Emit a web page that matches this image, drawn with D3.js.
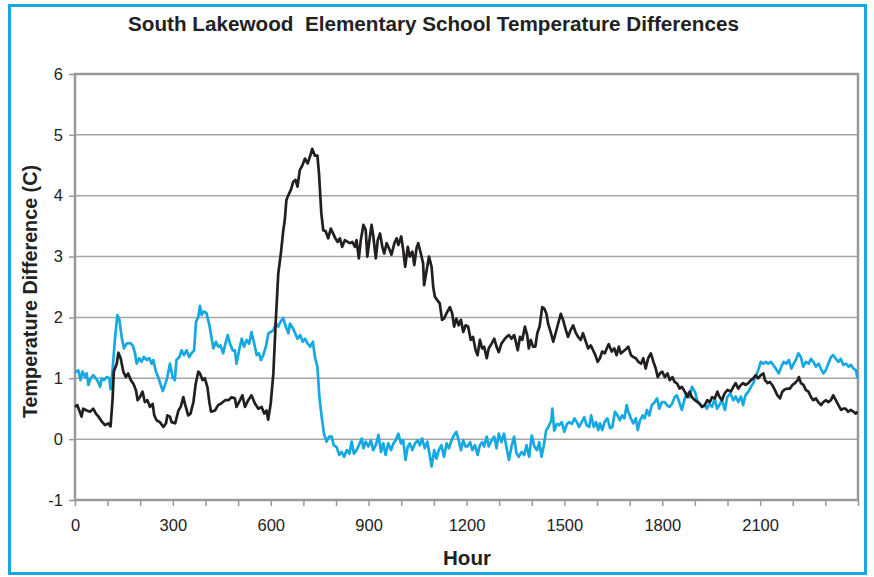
<!DOCTYPE html>
<html><head><meta charset="utf-8">
<script src="https://cdn.jsdelivr.net/npm/d3@7"></script>
<style>html,body{margin:0;padding:0;background:#fff;}svg{display:block;font-family:Arial,"Liberation Sans",sans-serif;}</style>
</head><body><div id="chart"></div>
<script>
const titleText = "South Lakewood  Elementary School Temperature Differences";
const yTitle = "Temperature Difference (C)";
const xTitle = "Hour";
const yTicks = [-1,0,1,2,3,4,5,6];
const xLabelTicks = [0,300,600,900,1200,1500,1800,2100];
const xMinorTicks = d3.range(0, 2401, 100);

// [hour, temperature difference]
const blackSeries = [
[0,0.53],[7,0.56],[20,0.37],[25,0.50],[36,0.47],[46,0.45],[56,0.50],[64,0.42],[72,0.37],[82,0.29],[92,0.23],[102,0.26],[109,0.21],[115,0.64],[119,1.11],[128,1.24],[133,1.42],[140,1.33],[148,1.11],[156,1.02],[163,1.08],[171,0.97],[179,0.91],[187,0.80],[192,0.64],[199,0.69],[207,0.78],[214,0.61],[222,0.64],[230,0.53],[238,0.58],[243,0.39],[250,0.31],[260,0.28],[271,0.20],[279,0.26],[283,0.39],[291,0.37],[296,0.28],[307,0.26],[317,0.47],[324,0.53],[332,0.69],[337,0.58],[347,0.39],[354,0.42],[363,0.61],[370,0.91],[378,1.11],[383,1.08],[391,0.97],[398,1.00],[406,0.85],[412,0.60],[417,0.45],[429,0.47],[439,0.56],[449,0.59],[460,0.64],[470,0.64],[480,0.69],[490,0.67],[495,0.53],[506,0.64],[513,0.72],[521,0.53],[531,0.64],[541,0.72],[551,0.59],[562,0.50],[572,0.53],[580,0.42],[587,0.47],[592,0.32],[600,0.59],[608,1.08],[615,1.90],[623,2.72],[631,3.05],[638,3.41],[643,3.60],[648,3.93],[654,4.01],[662,4.10],[669,4.23],[676,4.26],[682,4.15],[689,4.42],[697,4.50],[705,4.61],[713,4.53],[720,4.64],[727,4.77],[735,4.66],[743,4.66],[748,4.36],[755,3.71],[761,3.43],[768,3.42],[776,3.30],[784,3.46],[791,3.38],[798,3.30],[805,3.24],[812,3.30],[819,3.16],[827,3.27],[836,3.24],[843,3.22],[850,3.24],[858,3.16],[863,3.27],[870,2.97],[876,3.27],[884,3.52],[891,3.44],[896,3.00],[904,3.33],[909,3.52],[914,3.35],[922,2.97],[928,3.27],[935,3.38],[942,3.16],[948,3.05],[955,3.22],[962,3.14],[970,3.03],[979,3.22],[986,3.30],[991,3.19],[1000,3.33],[1006,3.11],[1012,2.83],[1020,3.16],[1026,3.00],[1034,3.08],[1040,2.86],[1047,3.14],[1052,3.22],[1060,3.05],[1067,2.89],[1070,2.53],[1078,2.78],[1085,3.00],[1093,2.83],[1098,2.50],[1103,2.34],[1111,2.28],[1118,2.23],[1125,1.96],[1131,1.98],[1139,2.07],[1149,2.17],[1156,2.07],[1162,1.85],[1169,1.98],[1176,1.87],[1183,1.96],[1190,1.76],[1197,1.87],[1205,1.85],[1213,1.63],[1220,1.68],[1228,1.46],[1234,1.38],[1241,1.63],[1248,1.49],[1254,1.52],[1262,1.33],[1268,1.49],[1277,1.57],[1285,1.65],[1292,1.52],[1299,1.43],[1307,1.57],[1315,1.63],[1323,1.68],[1330,1.71],[1338,1.65],[1346,1.71],[1350,1.63],[1357,1.46],[1364,1.68],[1371,1.63],[1379,1.85],[1386,1.71],[1391,1.49],[1397,1.63],[1404,1.52],[1411,1.52],[1417,1.74],[1424,1.85],[1432,2.17],[1438,2.15],[1445,2.06],[1450,1.90],[1458,1.76],[1466,1.60],[1473,1.74],[1481,1.90],[1489,2.06],[1496,1.96],[1503,1.82],[1511,1.68],[1519,1.79],[1527,1.87],[1534,1.76],[1542,1.68],[1550,1.63],[1557,1.74],[1564,1.63],[1573,1.49],[1581,1.54],[1588,1.46],[1595,1.38],[1602,1.27],[1609,1.33],[1616,1.44],[1624,1.41],[1632,1.52],[1636,1.56],[1645,1.44],[1653,1.49],[1660,1.38],[1667,1.52],[1673,1.41],[1680,1.44],[1691,1.49],[1696,1.52],[1704,1.38],[1711,1.35],[1719,1.33],[1727,1.27],[1735,1.24],[1742,1.33],[1749,1.16],[1757,1.33],[1765,1.41],[1773,1.27],[1780,1.16],[1786,1.02],[1793,1.08],[1800,1.11],[1808,1.02],[1816,1.08],[1823,0.97],[1831,1.02],[1838,0.94],[1846,0.91],[1853,0.83],[1860,0.86],[1869,0.78],[1877,0.69],[1884,0.78],[1891,0.69],[1900,0.64],[1908,0.61],[1915,0.58],[1922,0.53],[1930,0.56],[1938,0.64],[1946,0.61],[1953,0.69],[1961,0.67],[1969,0.78],[1976,0.69],[1983,0.64],[1991,0.75],[2000,0.81],[2010,0.78],[2018,0.86],[2025,0.92],[2033,0.83],[2041,0.89],[2048,0.92],[2055,0.89],[2064,0.92],[2072,0.97],[2079,1.00],[2086,1.05],[2094,1.00],[2102,1.05],[2110,1.08],[2115,0.97],[2123,0.92],[2130,0.94],[2137,0.89],[2145,0.81],[2153,0.72],[2161,0.67],[2168,0.78],[2176,0.82],[2184,0.83],[2191,0.83],[2199,0.89],[2207,0.92],[2215,0.97],[2219,1.02],[2225,0.92],[2233,0.89],[2240,0.81],[2248,0.78],[2256,0.69],[2263,0.64],[2271,0.67],[2278,0.61],[2287,0.56],[2294,0.61],[2301,0.64],[2309,0.61],[2317,0.64],[2324,0.72],[2332,0.64],[2340,0.56],[2348,0.48],[2355,0.50],[2362,0.50],[2370,0.45],[2378,0.48],[2386,0.45],[2393,0.42],[2398,0.45]
];

const blueSeries = [
[0,1.11],[3,1.11],[10,1.13],[17,0.97],[23,1.11],[31,1.02],[36,1.08],[41,0.89],[48,1.00],[56,1.05],[64,1.00],[71,0.94],[77,0.86],[82,1.00],[89,0.97],[97,1.02],[105,1.00],[109,0.82],[115,1.13],[123,1.68],[130,2.04],[136,1.96],[143,1.68],[150,1.49],[158,1.57],[169,1.58],[177,1.54],[184,1.41],[189,1.24],[197,1.33],[204,1.27],[211,1.35],[220,1.30],[228,1.33],[235,1.24],[240,1.30],[248,1.11],[255,1.02],[263,0.89],[269,0.79],[276,0.89],[283,1.02],[291,1.24],[299,1.02],[306,0.97],[311,1.30],[320,1.35],[327,1.46],[334,1.38],[342,1.46],[350,1.35],[357,1.41],[365,1.46],[371,1.93],[378,2.01],[383,2.19],[388,2.04],[395,2.10],[403,2.07],[412,1.87],[419,1.65],[424,1.49],[432,1.60],[439,1.52],[446,1.54],[454,1.41],[461,1.57],[468,1.71],[475,1.57],[483,1.46],[490,1.46],[495,1.24],[504,1.49],[511,1.65],[518,1.52],[526,1.63],[534,1.57],[541,1.76],[548,1.60],[557,1.38],[564,1.41],[570,1.30],[577,1.38],[585,1.52],[593,1.74],[600,1.76],[608,1.79],[616,1.90],[623,1.85],[630,1.93],[638,1.99],[646,1.85],[654,1.74],[659,1.90],[668,1.82],[675,1.74],[682,1.65],[690,1.71],[698,1.60],[705,1.65],[713,1.57],[721,1.52],[729,1.60],[736,1.33],[743,1.19],[749,0.70],[756,0.37],[763,0.09],[771,-0.04],[779,0.04],[787,0.04],[793,-0.10],[802,-0.13],[810,-0.26],[817,-0.21],[825,-0.29],[833,-0.18],[841,-0.24],[848,-0.04],[855,-0.24],[863,-0.18],[870,-0.10],[879,0.01],[884,-0.15],[891,-0.04],[899,-0.12],[907,-0.02],[914,-0.18],[922,-0.10],[930,0.07],[938,-0.21],[945,-0.07],[952,-0.26],[960,-0.07],[969,-0.18],[976,-0.07],[983,-0.02],[991,0.09],[999,-0.07],[1006,-0.02],[1013,-0.34],[1020,-0.12],[1026,-0.07],[1034,-0.18],[1042,-0.07],[1050,-0.02],[1057,-0.10],[1064,0.01],[1072,-0.15],[1080,-0.04],[1088,-0.29],[1093,-0.45],[1101,-0.18],[1108,-0.32],[1115,-0.18],[1123,-0.10],[1131,-0.29],[1139,-0.07],[1146,-0.15],[1154,-0.02],[1162,0.07],[1169,0.12],[1176,-0.02],[1183,-0.18],[1190,-0.02],[1197,-0.12],[1203,-0.12],[1211,-0.05],[1218,-0.18],[1226,-0.10],[1234,-0.26],[1241,-0.10],[1248,-0.05],[1254,-0.12],[1262,0.04],[1268,-0.12],[1277,-0.02],[1285,0.04],[1292,-0.15],[1299,0.09],[1307,-0.05],[1315,0.09],[1323,-0.15],[1330,-0.34],[1338,-0.12],[1346,0.04],[1353,-0.23],[1360,-0.29],[1369,-0.21],[1377,-0.26],[1384,-0.10],[1392,-0.29],[1400,0.06],[1408,-0.12],[1416,-0.18],[1423,-0.05],[1430,-0.29],[1437,-0.10],[1444,0.14],[1451,0.20],[1460,0.31],[1463,0.50],[1469,0.14],[1477,0.25],[1484,0.23],[1492,0.28],[1500,0.12],[1508,0.25],[1515,0.28],[1523,0.25],[1531,0.34],[1538,0.28],[1545,0.20],[1553,0.28],[1561,0.36],[1568,0.23],[1576,0.20],[1582,0.39],[1590,0.20],[1597,0.28],[1604,0.15],[1609,0.26],[1616,0.15],[1624,0.29],[1632,0.34],[1640,0.18],[1647,0.20],[1655,0.45],[1663,0.39],[1670,0.31],[1677,0.39],[1684,0.34],[1691,0.56],[1696,0.45],[1704,0.34],[1711,0.26],[1719,0.34],[1725,0.15],[1732,0.31],[1740,0.39],[1746,0.34],[1753,0.48],[1760,0.39],[1768,0.56],[1777,0.61],[1784,0.67],[1791,0.50],[1799,0.61],[1807,0.61],[1814,0.56],[1822,0.53],[1830,0.58],[1838,0.69],[1845,0.72],[1852,0.61],[1860,0.48],[1869,0.67],[1876,0.75],[1884,0.69],[1891,0.86],[1900,0.78],[1907,0.64],[1914,0.58],[1922,0.53],[1930,0.56],[1937,0.50],[1944,0.58],[1953,0.53],[1961,0.67],[1968,0.50],[1975,0.56],[1983,0.64],[1992,0.48],[1999,0.69],[2009,0.75],[2018,0.64],[2025,0.70],[2033,0.61],[2041,0.70],[2048,0.56],[2055,0.72],[2064,0.78],[2072,0.86],[2079,0.92],[2086,1.02],[2094,1.13],[2102,1.27],[2110,1.24],[2117,1.27],[2125,1.24],[2133,1.27],[2140,1.22],[2148,1.16],[2157,1.08],[2165,1.19],[2172,1.27],[2180,1.24],[2188,1.30],[2196,1.16],[2203,1.24],[2211,1.32],[2217,1.41],[2225,1.35],[2232,1.19],[2240,1.27],[2249,1.24],[2256,1.32],[2263,1.27],[2271,1.19],[2279,1.24],[2286,1.16],[2294,1.08],[2301,1.13],[2309,1.24],[2317,1.35],[2324,1.38],[2332,1.32],[2340,1.27],[2347,1.32],[2355,1.22],[2363,1.24],[2371,1.19],[2378,1.22],[2386,1.16],[2394,1.13],[2398,1.00]
];

const W = 874, H = 577;
const M = {left:75, right:858, top:74, bottom:500};
const svg = d3.select("#chart").append("svg").attr("width", W).attr("height", H);

svg.append("rect").attr("x",9.5).attr("y",5.5).attr("width",856).attr("height",568)
  .attr("fill","#fff").attr("stroke","#1aa6e0").attr("stroke-width",3);

const x = d3.scaleLinear().domain([0,2400]).range([M.left, M.right]);
const y = d3.scaleLinear().domain([-1,6]).range([M.bottom, M.top]);

// gridlines
svg.append("g").selectAll("line").data(yTicks.filter(d=>d>-1 && d<6)).join("line")
  .attr("x1",M.left).attr("x2",M.right).attr("y1",d=>y(d)).attr("y2",d=>y(d))
  .attr("stroke","#a6a6a6").attr("stroke-width",1.5);

// y axis
const yAxis = d3.axisLeft(y).tickValues(yTicks).tickSize(6).tickPadding(6).tickFormat(d => String(d));
const gy = svg.append("g").attr("transform",`translate(${M.left},0)`).call(yAxis);
gy.select(".domain").remove();
gy.selectAll(".tick line").attr("stroke","#999").attr("stroke-width",1.5);
gy.selectAll(".tick text").attr("font-size",16.5).attr("fill","#222").attr("font-family","Arial, 'Liberation Sans', sans-serif");

// x axis: minor ticks every 100, labels every 300
const xAxis = d3.axisBottom(x).tickValues(xMinorTicks).tickSize(6).tickPadding(13)
  .tickFormat(d => xLabelTicks.includes(d) ? String(d) : "");
const gx = svg.append("g").attr("transform",`translate(0,${M.bottom})`).call(xAxis);
gx.select(".domain").remove();
gx.selectAll(".tick line").attr("stroke","#999").attr("stroke-width",1.5);
gx.selectAll(".tick text").attr("font-size",16.5).attr("fill","#222").attr("font-family","Arial, 'Liberation Sans', sans-serif");

// plot frame
svg.append("rect").attr("x",M.left).attr("y",M.top).attr("width",M.right-M.left).attr("height",M.bottom-M.top)
  .attr("fill","none").attr("stroke","#999").attr("stroke-width",2.5);

const line = d3.line().x(d=>x(d[0])).y(d=>y(d[1]));
svg.append("path").datum(blueSeries).attr("d",line).attr("fill","none")
  .attr("stroke","#16a8e2").attr("stroke-width",2.7).attr("stroke-linejoin","round");
svg.append("path").datum(blackSeries).attr("d",line).attr("fill","none")
  .attr("stroke","#231f20").attr("stroke-width",2.7).attr("stroke-linejoin","round");

// titles
svg.append("text").attr("x",433.5).attr("y",31).attr("text-anchor","middle")
  .attr("font-size",19.5).attr("font-weight","bold").attr("fill","#222").style("white-space","pre")
  .attr("textLength",611).attr("lengthAdjust","spacingAndGlyphs")
  .text(titleText);
svg.append("text").attr("transform","translate(37,291.5) rotate(-90)").attr("text-anchor","middle")
  .attr("font-size",20).attr("font-weight","bold").attr("fill","#222")
  .attr("textLength",253).attr("lengthAdjust","spacingAndGlyphs").text(yTitle);
svg.append("text").attr("x",467).attr("y",565).attr("text-anchor","middle")
  .attr("font-size",20).attr("font-weight","bold").attr("fill","#222")
  .attr("textLength",48).attr("lengthAdjust","spacingAndGlyphs").text(xTitle);
</script></body></html>
